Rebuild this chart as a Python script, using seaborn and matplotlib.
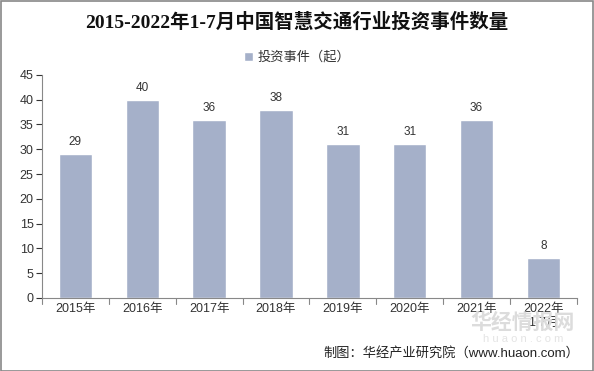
import matplotlib
matplotlib.use("Agg")
import matplotlib.pyplot as plt
import seaborn as sns
import pandas as pd
from matplotlib.patches import Rectangle

# 数据
years = ["2015年", "2016年", "2017年", "2018年", "2019年", "2020年", "2021年", "2022年\n1-7月"]
events = [29, 40, 36, 38, 31, 31, 36, 8]
y_ticks = list(range(0, 50, 5))

title = "2015-2022年1-7月中国智慧交通行业投资事件数量"
legend_label = "投资事件（起）"
source = "制图：华经产业研究院（www.huaon.com）"

bar_color = "#A5B0C9"

sns.set_theme(style="white")
plt.rcParams["font.family"] = ["Liberation Sans", "Noto Sans CJK SC", "DejaVu Sans"]

df = pd.DataFrame({"year": years, "events": events})

fig = plt.figure(figsize=(5.94, 3.71), dpi=100)
ax = fig.add_axes([0.0707, 0.197, 0.9003, 0.601])

sns.barplot(data=df, x="year", y="events", color=bar_color, width=0.5,
            saturation=1, ax=ax, label=legend_label)

for i, v in enumerate(events):
    ax.text(i, v + 1.2, str(v), ha="center", va="bottom", fontsize=8.5, color="#333333")

ax.set_ylim(0, 45)
ax.set_yticks(y_ticks)
ax.set_xlim(-0.5, len(years) - 0.5)
ax.set_xlabel("")
ax.set_ylabel("")
ax.tick_params(axis="y", labelsize=9, colors="#333333", length=4, width=0.8,
               direction="out", left=True, pad=2)
ax.tick_params(axis="x", labelsize=9, colors="#333333", length=0, pad=4)
# 类别分隔刻度
for b in [i - 0.5 for i in range(len(years) + 1)]:
    ax.plot([b, b], [0, -1.2], color="#888888", lw=0.8, clip_on=False)
for s in ["top", "right"]:
    ax.spines[s].set_visible(False)
for s in ["left", "bottom"]:
    ax.spines[s].set_color("#888888")
    ax.spines[s].set_linewidth(0.8)

fig.legend(loc="center", bbox_to_anchor=(0.5, 0.845), frameon=False, fontsize=9.5,
           handlelength=0.7, handleheight=0.7, handletextpad=0.3, labelcolor="#333333")
if ax.get_legend() is not None:
    ax.get_legend().remove()

fig.text(0.5, 0.94, title, ha="center", va="center", fontsize=14, fontweight="bold",
         color="#111111", family=["Liberation Serif", "Noto Sans CJK SC"])

# 水印
fig.text(0.88, 0.13, "华经情报网", ha="center", va="center", fontsize=15,
         color="#dcdcdc", fontweight="bold", zorder=0)
fig.text(0.88, 0.085, "h u a o n . c o m", ha="center", va="center", fontsize=8,
         color="#e4e4e4", zorder=0)

fig.text(0.975, 0.048, source, ha="right", va="center", fontsize=9.5, color="#222222")

fig.patches.append(Rectangle((0.001, 0.001), 0.997, 0.996, transform=fig.transFigure,
                             fill=False, edgecolor="#888888", lw=1.2))

fig.savefig("out.png", dpi=100)
